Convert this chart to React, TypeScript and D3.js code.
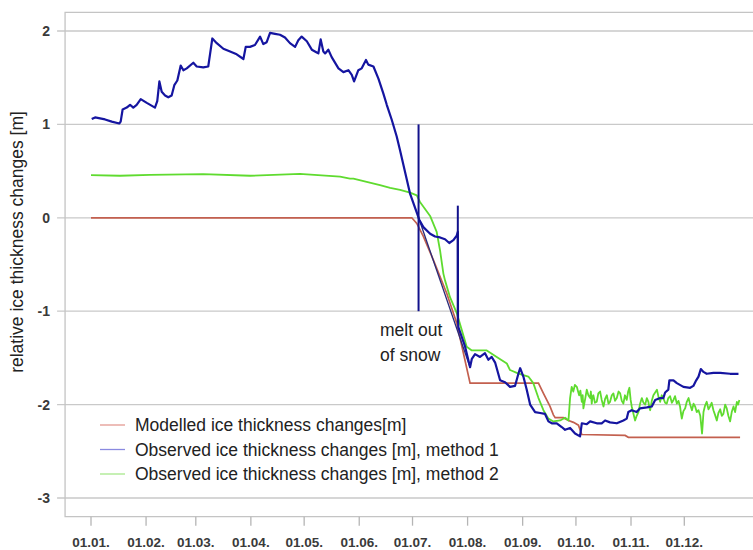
import React from "react";
import * as d3 from "d3";

const YEAR_START = new Date(2010, 0, 1);
const monthTicks = ["01.01.", "01.02.", "01.03.", "01.04.", "01.05.", "01.06.", "01.07.", "01.08.", "01.09.", "01.10.", "01.11.", "01.12."];
const yTicks = [2, 1, 0, -1, -2, -3];

// [day of year, value]
const modelled: [number, number][] = [
  [0, 0], [180.6, 0], [183.4, -0.06], [187.1, -0.2], [192.7, -0.45], [200.3, -0.81], [205.9, -1.13],
  [213.4, -1.77], [251.9, -1.77], [254.7, -1.88], [258.4, -2.02], [260.3, -2.11], [261.3, -2.14],
  [265.9, -2.14], [268.8, -2.17], [271.6, -2.19], [274.4, -2.22], [276.3, -2.32], [300.7, -2.33],
  [302.5, -2.35], [365.4, -2.35],
];

const method1: [number, number][] = [
  [0.4, 1.057], [2.3, 1.075], [5.1, 1.064], [7.9, 1.053], [11.7, 1.03], [15.9, 1.01], [16.7, 1.03],
  [17.8, 1.16], [20.1, 1.18], [22.0, 1.21], [23.8, 1.18], [25.7, 1.21], [28.0, 1.27], [31.4, 1.23],
  [36.0, 1.18], [37.3, 1.25], [38.5, 1.46], [39.8, 1.35], [41.7, 1.31], [43.5, 1.29], [45.4, 1.31],
  [46.9, 1.42], [48.6, 1.47], [50.5, 1.63], [52.0, 1.58], [53.9, 1.6], [57.6, 1.66], [59.5, 1.62],
  [63.2, 1.61], [66.0, 1.62], [67.0, 1.75], [68.3, 1.92], [70.8, 1.87], [74.5, 1.81], [78.3, 1.78],
  [82.0, 1.75], [85.8, 1.7], [87.1, 1.83], [89.5, 1.83], [92.3, 1.85], [95.2, 1.94], [97.0, 1.86],
  [98.9, 1.88], [100.8, 1.98], [103.6, 1.97], [106.4, 1.96], [109.2, 1.93], [112.0, 1.87],
  [114.9, 1.83], [116.7, 1.9], [118.6, 1.94], [121.5, 1.89], [124.3, 1.8], [127.1, 1.77],
  [128.0, 1.76], [129.3, 1.91], [130.8, 1.78], [131.8, 1.76], [133.6, 1.8], [135.5, 1.72],
  [139.3, 1.6], [142.1, 1.56], [144.9, 1.58], [146.8, 1.53], [148.1, 1.46], [150.5, 1.58],
  [152.4, 1.6], [154.8, 1.69], [156.1, 1.64], [159.0, 1.62], [161.8, 1.49], [164.6, 1.33],
  [166.5, 1.21], [169.3, 1.05], [172.1, 0.87], [174.0, 0.72], [179.6, 0.26], [184.8, -0.02],
  [187.1, -0.1], [190.9, -0.17], [193.7, -0.2], [196.5, -0.21], [199.3, -0.23], [201.7, -0.27],
  [204.0, -0.24], [205.9, -0.19], [206.5, -0.15], [206.6, -1.1], [206.8, -1.17], [210.6, -1.38],
  [213.4, -1.6], [214.4, -1.51], [216.2, -1.46], [219.0, -1.49], [221.8, -1.45], [223.7, -1.52],
  [225.6, -1.49], [227.5, -1.55], [230.3, -1.74], [233.1, -1.76], [235.9, -1.81], [238.7, -1.8],
  [240.6, -1.67], [241.6, -1.61], [243.4, -1.7], [245.3, -1.84], [247.2, -2.0], [250.0, -2.08],
  [252.8, -2.09], [255.6, -2.1], [257.5, -2.18], [259.4, -2.2], [262.2, -2.2], [265.0, -2.24],
  [266.9, -2.27], [269.7, -2.25], [272.5, -2.31], [275.3, -2.34], [276.3, -2.2], [279.1, -2.21],
  [281.0, -2.18], [284.7, -2.2], [287.5, -2.2], [289.4, -2.17], [292.2, -2.19], [296.0, -2.2],
  [299.7, -2.17], [301.6, -2.15], [302.5, -2.08], [304.4, -2.06], [307.2, -2.08], [309.1, -2.04],
  [312.9, -2.03], [315.7, -2.02], [317.6, -1.95], [320.4, -1.93], [322.2, -1.93], [323.2, -1.87],
  [325.0, -1.84], [325.6, -1.74], [327.9, -1.74], [329.8, -1.77], [333.5, -1.81], [337.3, -1.82],
  [339.1, -1.8], [340.7, -1.74], [342.0, -1.7], [343.3, -1.62], [344.8, -1.65], [346.6, -1.67],
  [350.4, -1.66], [354.2, -1.66], [359.8, -1.67], [364.5, -1.67],
];

const method2: [number, number][] = [
  [0, 0.457], [16.3, 0.45], [33.2, 0.46], [63.1, 0.468], [89.5, 0.45], [117.7, 0.47], [119.5, 0.468],
  [140.2, 0.44], [145.8, 0.42], [147.7, 0.42], [162.7, 0.35], [168.4, 0.32], [174.0, 0.3],
  [179.6, 0.27], [183.4, 0.24], [185.2, 0.17], [190.9, 0.02], [194.6, -0.15], [196.5, -0.35],
  [198.4, -0.6], [199.3, -0.67], [202.1, -0.85], [205.9, -1.02], [208.7, -1.2], [211.5, -1.38],
  [214.4, -1.42], [222.8, -1.42], [228.4, -1.49], [234.1, -1.56], [235.9, -1.63], [239.7, -1.66],
  [242.5, -1.68], [246.2, -1.7], [249.0, -1.77], [251.9, -1.93], [254.7, -2.06], [257.5, -2.15],
  [260.3, -2.18], [264.1, -2.17], [266.9, -2.14], [268.8, -2.17], [269.7, -1.93], [270.6, -1.81],
  [271.5, -1.86], [272.4, -1.79], [273.5, -1.81], [274.2, -1.86], [274.8, -1.9], [275.5, -1.85],
  [276.3, -1.97], [276.8, -1.9], [277.2, -2.04], [278.1, -1.95], [279.1, -1.84], [280.0, -1.9],
  [281.0, -1.93], [281.4, -1.86], [281.9, -1.99], [282.3, -1.92], [282.8, -1.9], [283.7, -1.98],
  [284.7, -1.97], [285.6, -1.88], [286.6, -1.86], [287.5, -1.95], [288.5, -2.02], [289.4, -1.94],
  [290.4, -1.9], [291.3, -1.99], [292.2, -1.97], [293.2, -1.9], [294.1, -1.88], [295.0, -1.96],
  [296.0, -1.93], [297.0, -1.86], [297.9, -1.88], [298.8, -1.96], [299.7, -1.99], [300.6, -1.9],
  [301.6, -1.95], [302.4, -1.86], [303.1, -1.82], [303.8, -1.95], [304.4, -2.02], [305.4, -2.1],
  [306.3, -2.17], [307.2, -2.12], [308.2, -2.08], [309.1, -1.99], [310.1, -1.93], [311.0, -1.98],
  [312.0, -2.0], [312.9, -1.93], [313.8, -1.97], [314.3, -2.03], [314.8, -2.06], [315.7, -1.96],
  [316.6, -1.9], [317.6, -1.87], [318.6, -1.84], [319.5, -1.92], [320.4, -1.97], [321.3, -1.9],
  [322.2, -1.93], [323.2, -1.98], [324.1, -1.99], [325.0, -1.93], [326.0, -1.91], [327.0, -1.98],
  [327.9, -1.95], [328.8, -1.91], [329.8, -1.99], [330.7, -1.96], [331.6, -2.02], [332.1, -2.09],
  [332.6, -2.15], [333.5, -2.07], [334.5, -2.04], [335.4, -1.97], [336.4, -1.93], [337.3, -2.0],
  [338.3, -2.06], [339.2, -1.99], [340.1, -2.02], [341.0, -2.08], [342.0, -2.06], [343.0, -2.12],
  [344.0, -2.31], [344.8, -2.08], [345.7, -2.01], [346.6, -1.97], [347.6, -2.05], [348.5, -2.02],
  [349.4, -1.98], [350.4, -2.06], [351.3, -2.11], [352.3, -2.17], [353.2, -2.09], [354.2, -2.05],
  [355.1, -2.12], [356.0, -2.1], [357.0, -2.0], [357.9, -2.04], [358.8, -2.12], [359.8, -2.18],
  [360.7, -2.08], [361.7, -2.02], [362.6, -2.08], [363.6, -1.97], [364.3, -2.0], [365.0, -1.95],
];

// annotation: thin guide line from melt-out, vertical markers
const guideLine: [number, number][] = [[184.8, -0.02], [213.4, -1.6]];
const markers: { day: number; top: number; bottom: number }[] = [
  { day: 184.4, top: 1, bottom: -1 },
  { day: 206.5, top: 0.13, bottom: -1.12 },
];
const annotationLines = ["melt out", "of snow"];
const legendItems = [
  { label: "Modelled ice thickness changes[m]", color: "#e39a92" },
  { label: "Observed ice thickness changes [m], method 1", color: "#8a8ae0" },
  { label: "Observed ice thickness changes [m], method 2", color: "#a8e88c" },
];
const yLabel = "relative ice thickness changes [m]";

const dayToDate = (d: number) => new Date(YEAR_START.getTime() + d * 86400000);

export default function App() {
  const W = 753, H = 550;
  const x = d3.scaleTime()
    .domain([new Date(2010, 0, 1), new Date(2010, 11, 1)])
    .range([91, 684.3]);
  const y = d3.scaleLinear().domain([-3, 2]).range([498, 31]);
  const frameLeft = x(dayToDate(-14.6));
  const frameRight = x(dayToDate(379.6));
  const frameTop = y(2.2);
  const frameBottom = y(-3.2);

  const line = d3.line<[number, number]>()
    .x((d) => x(dayToDate(d[0])))
    .y((d) => y(d[1]));

  const monthDates = monthTicks.map((_, i) => new Date(2010, i, 1));
  const font = "'Liberation Sans', Arial, sans-serif";

  return (
    <svg width={W} height={H} style={{ position: "absolute", left: 0, top: 0, background: "#fff" }}>
      <rect x={0} y={0} width={W} height={H} fill="#fff" />
      {/* gridlines */}
      {yTicks.map((t) => (
        <line key={t} x1={frameLeft - 8} x2={frameRight} y1={y(t)} y2={y(t)} stroke="#c9c9c9" strokeWidth={1.3} />
      ))}
      {/* frame */}
      <path
        d={`M${frameRight},${frameTop}H${frameLeft}V${frameBottom}H${frameRight}`}
        fill="none" stroke="#c4c4c4" strokeWidth={1.3}
      />
      {/* y tick labels */}
      {yTicks.map((t) => (
        <text key={t} x={frameLeft - 15} y={y(t)} dy="0.35em" textAnchor="end"
          fontFamily={font} fontSize={14} fontWeight="bold" fill="#3a3a3a">{t}</text>
      ))}
      {/* x ticks */}
      {monthDates.map((d, i) => (
        <g key={i}>
          <line x1={x(d)} x2={x(d)} y1={frameBottom} y2={frameBottom + 9} stroke="#b5b5b5" strokeWidth={1.3} />
          <text x={x(d)} y={546.5} textAnchor="middle" fontFamily={font} fontSize={13.5}
            fontWeight="bold" fill="#3a3a3a">{monthTicks[i]}</text>
        </g>
      ))}
      {/* y label */}
      <text transform={`translate(23,242) rotate(-90)`} textAnchor="middle" fontFamily={font}
        fontSize={17.5} fill="#222">{yLabel}</text>

      {/* series */}
      <path d={line(modelled) || ""} fill="none" stroke="#c3604f" strokeWidth={1.7} />
      <path d={line(method2) || ""} fill="none" stroke="#5fdb2f" strokeWidth={1.8} strokeLinejoin="round" />
      <path d={line(guideLine) || ""} fill="none" stroke="#2a2a7a" strokeWidth={1.3} />
      <path d={line(method1) || ""} fill="none" stroke="#1515a0" strokeWidth={2.2} strokeLinejoin="round" />
      {markers.map((m, i) => (
        <line key={i} x1={x(dayToDate(m.day))} x2={x(dayToDate(m.day))} y1={y(m.top)} y2={y(m.bottom)}
          stroke="#12128c" strokeWidth={2} />
      ))}
      {/* annotation */}
      {annotationLines.map((s, i) => (
        <text key={i} x={380} y={336 + i * 25} fontFamily={font} fontSize={17.5} fill="#222">{s}</text>
      ))}
      {/* legend */}
      {legendItems.map((it, i) => (
        <g key={i} transform={`translate(100,${425 + i * 24.5})`}>
          <line x1={0} x2={25} y1={0} y2={0} stroke={it.color} strokeWidth={1.3} />
          <text x={35} y={0} dy="0.35em" fontFamily={font} fontSize={17.5} fill="#222">{it.label}</text>
        </g>
      ))}
    </svg>
  );
}
